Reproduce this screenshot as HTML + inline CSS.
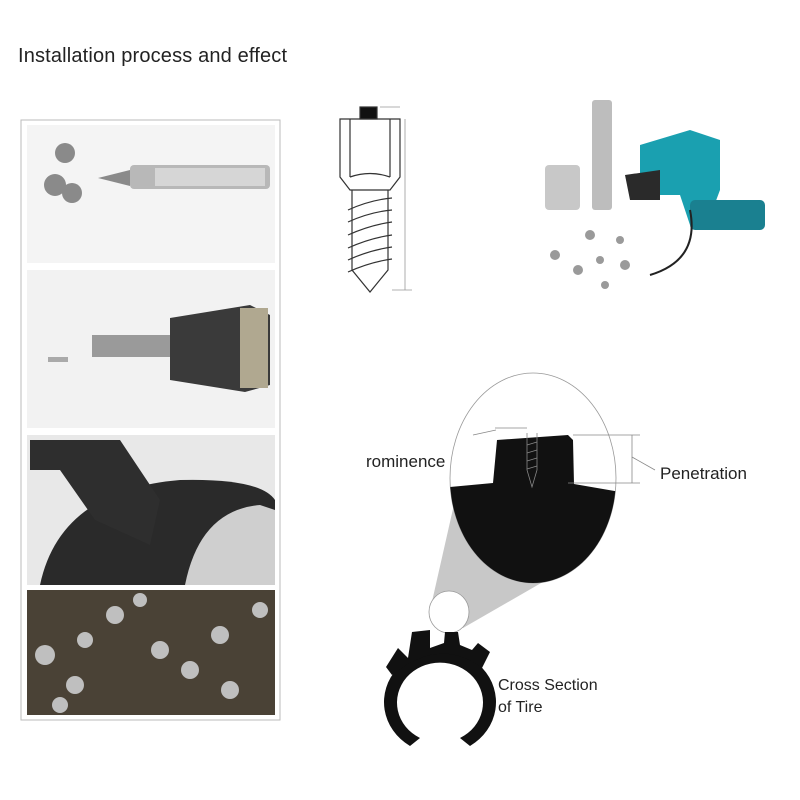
<!DOCTYPE html>
<html><head><style>
body{margin:0;background:#fff;}
svg{display:block;font-family:"Liberation Sans",sans-serif;}
</style></head><body>
<svg width="800" height="800" viewBox="0 0 800 800">
<text x="18" y="62" font-size="20" fill="#222" textLength="269">Installation process and effect</text>
<!-- left panel -->
<rect x="21" y="120" width="259" height="600" fill="#fff" stroke="#bbb"/>
<rect x="27" y="125" width="248" height="138" fill="#f4f4f4"/>
<rect x="130" y="165" width="140" height="24" rx="4" fill="#b8b8b8"/>
<rect x="155" y="168" width="110" height="18" fill="#d6d6d6"/>
<g fill="#8a8a8a"><circle cx="65" cy="153" r="10"/><circle cx="55" cy="185" r="11"/><circle cx="72" cy="193" r="10"/><polygon points="98,178 130,170 130,186"/></g>
<rect x="27" y="270" width="248" height="158" fill="#f2f2f2"/>
<rect x="92" y="335" width="78" height="22" fill="#9a9a9a"/>
<path d="M170 318 L250 305 L270 315 L270 385 L245 392 L170 380 Z" fill="#3a3a3a"/>
<rect x="240" y="308" width="28" height="80" fill="#b0a890"/>
<rect x="48" y="357" width="20" height="5" fill="#aaa"/>
<rect x="27" y="435" width="248" height="150" fill="#e8e8e8"/>
<path d="M40 585 Q60 490 180 480 Q260 478 275 500 L275 585 Z" fill="#2a2a2a"/>
<path d="M185 585 Q200 510 260 505 L275 510 L275 585 Z" fill="#cfcfcf"/>
<path d="M30 440 L120 440 L160 500 L150 545 L95 520 L60 470 L30 470 Z" fill="#2e2e2e"/>
<rect x="27" y="590" width="248" height="125" fill="#4a4236"/>
<g fill="#bfbfbf"><circle cx="45" cy="655" r="10"/><circle cx="75" cy="685" r="9"/><circle cx="115" cy="615" r="9"/><circle cx="160" cy="650" r="9"/><circle cx="190" cy="670" r="9"/><circle cx="220" cy="635" r="9"/><circle cx="230" cy="690" r="9"/><circle cx="260" cy="610" r="8"/><circle cx="85" cy="640" r="8"/><circle cx="140" cy="600" r="7"/><circle cx="60" cy="705" r="8"/></g>
<!-- stud drawing -->
<g stroke="#333" fill="none" stroke-width="1.2">
<rect x="360" y="107" width="17" height="12" fill="#111"/>
<path d="M340 119 L400 119 L400 177 L390 190 L350 190 L340 177 Z"/>
<line x1="350" y1="119" x2="350" y2="177"/><line x1="390" y1="119" x2="390" y2="177"/>
<path d="M350 177 Q370 170 390 177"/>
<path d="M352 190 L352 270 L370 292 L388 270 L388 190"/>
<path d="M348 210 Q370 200 392 198 M348 222 Q370 212 392 210 M348 235 Q370 225 392 222 M348 248 Q370 238 392 235 M348 260 Q370 250 392 247 M348 272 Q370 262 392 259"/>
<line x1="405" y1="119" x2="405" y2="290" stroke="#999" stroke-width="0.8"/>
<line x1="392" y1="290" x2="412" y2="290" stroke="#999" stroke-width="0.8"/>
<line x1="380" y1="107" x2="400" y2="107" stroke="#999" stroke-width="0.8"/>
</g>
<!-- drill photo -->
<rect x="545" y="165" width="35" height="45" rx="4" fill="#c8c8c8"/>
<rect x="592" y="100" width="20" height="110" rx="3" fill="#bdbdbd"/>
<path d="M640 145 L690 130 L720 140 L720 190 L705 230 L690 225 L680 195 L640 195 Z" fill="#1aa0b0"/>
<path d="M625 175 L660 170 L660 200 L630 200 Z" fill="#2a2a2a"/>
<rect x="690" y="200" width="75" height="30" rx="5" fill="#1a8090"/>
<path d="M690 210 Q700 260 650 275" stroke="#222" stroke-width="2" fill="none"/>
<g fill="#9a9a9a"><circle cx="555" cy="255" r="5"/><circle cx="578" cy="270" r="5"/><circle cx="600" cy="260" r="4"/><circle cx="625" cy="265" r="5"/><circle cx="590" cy="235" r="5"/><circle cx="620" cy="240" r="4"/><circle cx="605" cy="285" r="4"/></g>
<!-- zoom diagram -->
<polygon points="431,606 463,628 555,575 455,500" fill="#c8c8c8"/>
<ellipse cx="449" cy="612" rx="20" ry="21" fill="#fff" stroke="#999" stroke-width="0.8"/>
<clipPath id="ec"><ellipse cx="533" cy="478" rx="83" ry="105"/></clipPath>
<ellipse cx="533" cy="478" rx="83" ry="105" fill="#fff" stroke="#999" stroke-width="0.8"/>
<g clip-path="url(#ec)">
<path d="M440 488 L493 483 L497 440 L568 435 L573 440 L574 484 L620 492 L620 600 L440 600 Z" fill="#111"/>
</g>
<g stroke="#888" stroke-width="0.8" fill="none">
<path d="M527 433 L527 470 L532 487 L537 470 L537 433"/>
<path d="M527 445 L537 442 M527 453 L537 450 M527 461 L537 458 M527 469 L537 466"/>
<line x1="573" y1="435" x2="640" y2="435"/><line x1="568" y1="483" x2="640" y2="483"/>
<line x1="632" y1="435" x2="632" y2="483"/><line x1="632" y1="457" x2="655" y2="470"/>
<line x1="473" y1="435" x2="496" y2="430"/><line x1="495" y1="428" x2="527" y2="428"/>
</g>
<text x="366" y="467" font-size="17" fill="#222">rominence</text>
<text x="660" y="479" font-size="17" fill="#222">Penetration</text>
<!-- tire -->
<path d="M410 746 A56 52 0 1 1 470 746 L460 738 A43 40 0 1 0 420 738 Z" fill="#111"/>
<path d="M386 667 L398 648 L408 658 L412 632 L430 630 L430 648 L444 643 L445 632 L458 632 L460 645 L472 650 L478 643 L490 652 L482 668 Q440 636 392 675 Z" fill="#111"/>
<text x="498" y="690" font-size="16" fill="#222">Cross Section</text>
<text x="498" y="712" font-size="16" fill="#222">of Tire</text>
</svg>
</body></html>
